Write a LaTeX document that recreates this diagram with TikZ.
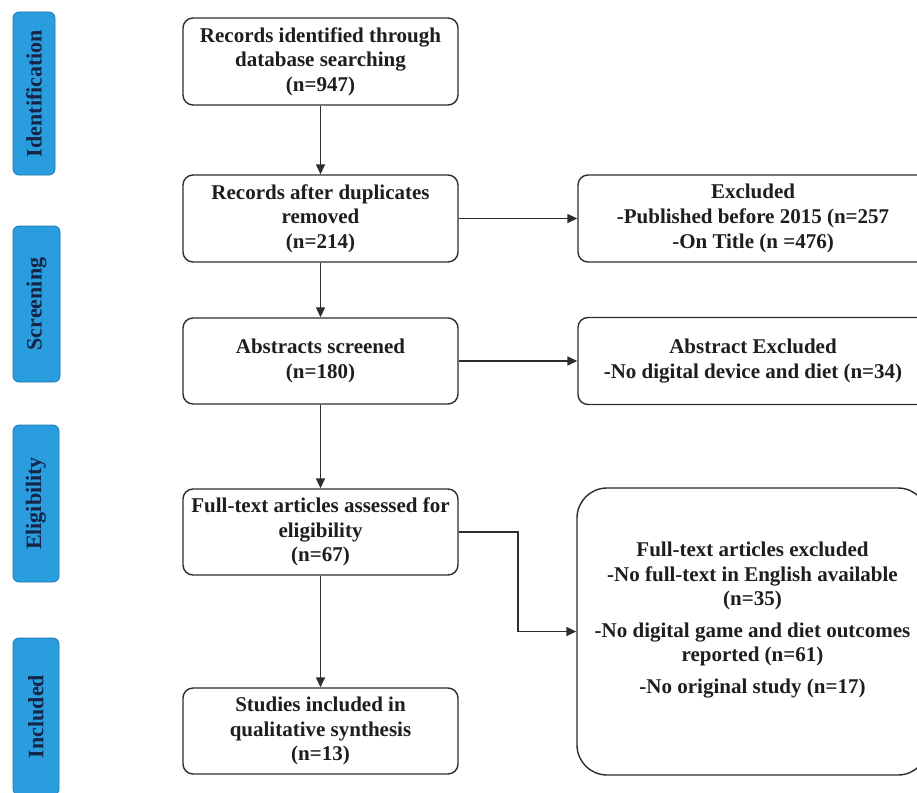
\documentclass[tikz,border=0pt]{standalone}
\usepackage{fontspec}
\setmainfont{Liberation Serif}
\usetikzlibrary{arrows.meta}
\definecolor{barblue}{RGB}{41,157,222}
\definecolor{barline}{RGB}{32,118,176}
\definecolor{bartext}{RGB}{22,36,70}
\definecolor{linegray}{RGB}{45,45,45}
\definecolor{boxtext}{RGB}{30,30,30}
\tikzset{
  phase/.style={draw=barline, fill=barblue, line width=0.8pt, rounded corners=6pt,
    rotate=90, text=bartext, font=\fontsize{22}{26}\selectfont\bfseries, inner sep=0pt},
  mainbox/.style={draw=linegray, line width=1.4pt, rounded corners=10pt, fill=white,
    minimum width=275pt, minimum height=87pt, align=center, text=boxtext,
    font=\fontsize{21}{24.6}\selectfont\bfseries, inner sep=0pt},
  sidebox/.style={mainbox, minimum width=350pt},
  bigbox/.style={draw=linegray, line width=1.4pt, rounded corners=30pt, fill=white,
    minimum width=351pt, minimum height=287pt, inner sep=0pt},
  boxlabel/.style={align=center, text=boxtext, font=\fontsize{21}{24.6}\selectfont\bfseries, inner sep=0pt},
  flow/.style={draw=linegray, line width=1.4pt, -{Triangle[length=10pt,width=9pt]}}
}
\begin{document}
\begin{tikzpicture}[x=1pt,y=-1pt]
\useasboundingbox (0,0) rectangle (917,792);
\clip (0,0) rectangle (917,792);
\fill[white] (0,0) rectangle (917,792);

% phase bars
\node[phase, minimum width=163pt, minimum height=42pt] (pid) at (34,93.5) {Identification};
\node[phase, minimum width=156pt, minimum height=47pt] (pscr) at (36.5,304) {Screening};
\node[phase, minimum width=157pt, minimum height=46pt] (pel) at (36,503.5) {Eligibility};
\node[phase, minimum width=157pt, minimum height=46pt] (pin) at (36,716.5) {Included};

% main column
\node[mainbox] (b1) at (320.5,61.5) {Records identified through\\database searching\\(n=947)};
\node[mainbox] (b2) at (320.5,218.5) {Records after duplicates\\removed\\(n=214)};
\node[mainbox, minimum height=86pt] (b3) at (320.5,361) {Abstracts screened\\(n=180)};
\node[mainbox, minimum height=86pt] (b4) at (320.5,532) {Full-text articles assessed for\\eligibility\\(n=67)};
\node[mainbox, minimum height=86pt] (b5) at (320.5,731) {Studies included in\\qualitative synthesis\\(n=13)};

% right column
\node[sidebox] (e1) at (753,218.5) {Excluded\\-Published before 2015 (n=257\\-On Title (n =476)};
\node[sidebox] (e2) at (753,361) {Abstract Excluded\\-No digital device and diet (n=34)};
\node[bigbox] (e3) at (752.5,631.5) {};
\node[boxlabel] (e3t) at (752.5,620) {Full-text articles excluded\\-No full-text in English available\\(n=35)\\[7pt]-No digital game and diet outcomes\\reported (n=61)\\[7pt]-No original study (n=17)};

% connectors
\draw[flow] (b1.south) -- (b2.north);
\draw[flow] (b2.south) -- (b3.north);
\draw[flow] (b3.south) -- (b4.north);
\draw[flow] (b4.south) -- (b5.north);
\draw[flow] (b2.east) -- (e1.west);
\draw[flow] (b3.east) -- (e2.west);
\coordinate (bend) at (518,532);
\draw[flow] (b4.east) -- (bend) |- (e3.west);
\end{tikzpicture}
\end{document}
